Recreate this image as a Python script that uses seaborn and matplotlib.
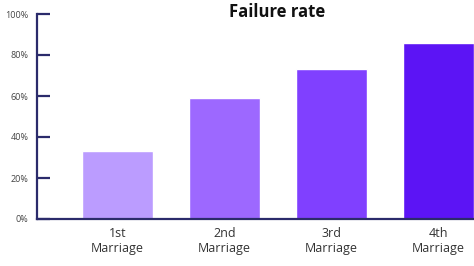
import matplotlib
matplotlib.use("Agg")
import matplotlib.pyplot as plt
import seaborn as sns
import pandas as pd

categories = ["1st\nMarriage", "2nd\nMarriage", "3rd\nMarriage", "4th\nMarriage"]
failure_rate = [33, 59, 73, 86]
colors = ["#bb9cff", "#9d68ff", "#8040ff", "#5c14f5"]
y_ticks = [0, 20, 40, 60, 80, 100]
y_tick_labels = ["0%", "20%", "40%", "60%", "80%", "100%"]

sns.set_theme(style="white")
plt.rcParams['font.family'] = ['Open Sans', 'DejaVu Sans']

df = pd.DataFrame({"cat": categories, "rate": failure_rate})

fig = plt.figure(figsize=(4.74, 2.66), dpi=100)
ax = fig.add_axes([37/474, 47/266, 1 - 37/474, (219-14)/266])
sns.barplot(data=df, x="cat", y="rate", hue="cat", palette=colors, legend=False,
            width=0.66, ax=ax, saturation=1)
ax.set_xlim(-0.75, 3.33)
ax.set_ylim(0, 100)
ax.set_yticks(y_ticks)
ax.set_yticklabels(y_tick_labels, fontsize=6.5, color="#444444")
ax.tick_params(axis="y", direction="in", length=9, width=1.6, color="#2b2b6b", pad=6, left=True)
ax.tick_params(axis="x", length=0, pad=6, labelsize=9, labelcolor="#333333")
for s in ["top", "right"]:
    ax.spines[s].set_visible(False)
for s in ["left", "bottom"]:
    ax.spines[s].set_color("#2b2b6b")
    ax.spines[s].set_linewidth(1.6)
ax.set_xlabel("")
ax.set_ylabel("")
fig.text(277/474, 1 - 12/266, "Failure rate", ha="center", va="center",
         fontsize=12, fontweight="bold", color="#111111")
fig.savefig("out.png", dpi=100)
